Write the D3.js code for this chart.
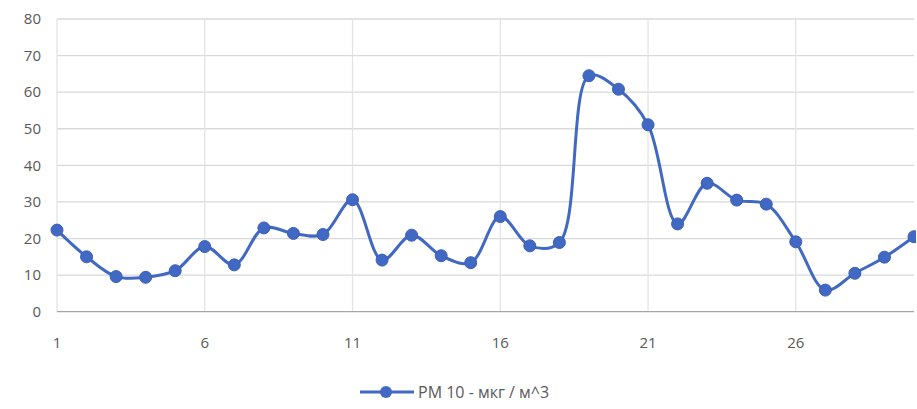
<!DOCTYPE html>
<html><head><meta charset="utf-8">
<script src="https://cdn.jsdelivr.net/npm/d3@7"></script>
<style>body{margin:0;background:#fff;}svg{display:block;font-family:"Open Sans","Noto Sans",sans-serif;}</style>
</head><body>
<svg id="c" width="917" height="409"></svg>
<script>
const days = d3.range(1, 31);
const pm10 = [22.3,15.0,9.6,9.4,11.2,17.8,12.8,22.9,21.4,21.1,30.6,14.1,20.9,15.3,13.4,26.0,18.0,18.9,64.5,60.8,51.1,24.0,35.1,30.5,29.4,19.1,5.9,10.5,14.9,20.5];
const yTicks = [0,10,20,30,40,50,60,70,80];
const xTicks = [1,6,11,16,21,26];
const seriesName = "PM 10 - мкг / м^3";

const svg = d3.select("#c");
const x = d3.scaleLinear().domain([1,30]).range([57,914]);
const y = d3.scaleLinear().domain([0,80]).range([311.7,19]);
const blue = "#4169c4";
const txt = "#595959";

svg.append("g").selectAll("line").data(yTicks.filter(d=>d>0)).join("line")
  .attr("x1",57).attr("x2",914).attr("y1",d=>y(d)).attr("y2",d=>y(d))
  .attr("stroke","#d9d9d9").attr("stroke-width",1.3);
svg.append("g").selectAll("line").data(xTicks).join("line")
  .attr("x1",d=>x(d)).attr("x2",d=>x(d)).attr("y1",y(80)).attr("y2",y(0))
  .attr("stroke","#e3e3e3").attr("stroke-width",1.3);
svg.append("line").attr("x1",57).attr("x2",914).attr("y1",y(0)).attr("y2",y(0))
  .attr("stroke","#a6a6a6").attr("stroke-width",1.2);

svg.append("g").selectAll("text").data(yTicks).join("text")
  .attr("x",41).attr("y",d=>y(d)).attr("dy","0.35em").attr("text-anchor","end")
  .attr("font-size",15).attr("fill",txt).text(d=>d);
svg.append("g").selectAll("text").data(xTicks).join("text")
  .attr("x",d=>x(d)).attr("y",343).attr("dy","0.35em").attr("text-anchor","middle")
  .attr("font-size",15).attr("fill",txt).text(d=>d);

const data = days.map((d,i)=>({d, v:pm10[i]}));
svg.append("defs").append("clipPath").attr("id","clp").append("rect")
  .attr("x",0).attr("y",0).attr("width",916).attr("height",409);
const g = svg.append("g").attr("clip-path","url(#clp)");
g.append("path").datum(data)
  .attr("d", d3.line().x(p=>x(p.d)).y(p=>y(p.v)).curve(d3.curveCatmullRom.alpha(0.5)))
  .attr("fill","none").attr("stroke",blue).attr("stroke-width",3);
g.selectAll("circle").data(data).join("circle")
  .attr("cx",p=>x(p.d)).attr("cy",p=>y(p.v)).attr("r",6)
  .attr("fill",blue).attr("stroke","#3a5fb5").attr("stroke-width",1);

const lg = svg.append("g");
lg.append("line").attr("x1",360).attr("x2",414).attr("y1",392).attr("y2",392)
  .attr("stroke",blue).attr("stroke-width",3);
lg.append("circle").attr("cx",386).attr("cy",392).attr("r",6).attr("fill",blue);
lg.append("text").attr("x",418).attr("y",392).attr("dy","0.35em")
  .attr("font-size",16).attr("fill",txt).text(seriesName);
</script>
</body></html>
